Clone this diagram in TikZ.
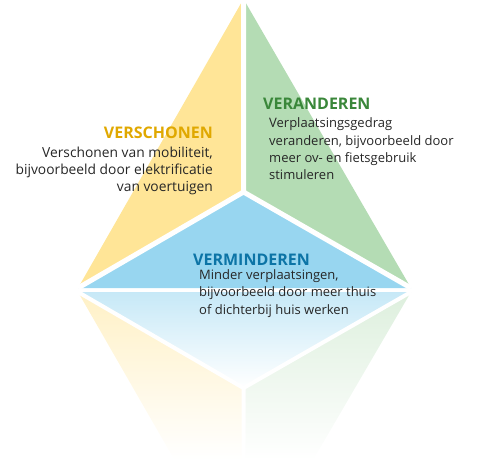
\documentclass[tikz,border=0pt]{standalone}
\usepackage{fontspec}
\setmainfont{Open Sans}
\definecolor{yel}{HTML}{FFE597}
\definecolor{grn}{HTML}{B4DCB4}
\definecolor{blu}{HTML}{98D6F0}
\definecolor{tyel}{HTML}{E0A800}
\definecolor{tgrn}{HTML}{3A873A}
\definecolor{tblu}{HTML}{0C74A6}
\definecolor{txt}{HTML}{262626}
\tikzset{
  gap/.style={white, line width=5pt},
  rgap/.style={white, line width=4pt},
  ttl/.style={inner sep=0pt, font=\fontsize{16}{19}\selectfont\bfseries},
  bodytxt/.style={inner sep=0pt, text=txt, font=\fontsize{13}{17.2}\selectfont},
}
\begin{document}
\begin{tikzpicture}[x=1pt,y=-1pt]
\useasboundingbox (0,0) rectangle (480,461);
\coordinate (A) at (243.5,-1);
\coordinate (C) at (243.5,192);
\coordinate (L) at (78,288);
\coordinate (R) at (411,288);
\coordinate (L2) at (78,292);
\coordinate (R2) at (411,292);
\coordinate (C2) at (243.5,388);
\coordinate (YB) at (174.5,460);
\coordinate (AB) at (243.5,460);
\coordinate (GB) at (313,460);
% reflection
\shade[top color=yel!55!white, bottom color=white] (L2) -- (C2) -- (AB) -- (YB) -- cycle;
\shade[top color=grn!45!white, bottom color=white] (R2) -- (C2) -- (AB) -- (GB) -- cycle;
\shade[top color=blu!55!white, middle color=white, bottom color=white] (L2) -- (C2) -- (R2) -- cycle;
\draw[rgap] (C2) -- (AB) (C2) -- (L2) (C2) -- (R2);
% pyramid
\fill[yel] (A) -- (C) -- (L) -- cycle;
\fill[grn] (A) -- (C) -- (R) -- cycle;
\fill[blu] (L) -- (C) -- (R) -- cycle;
\draw[gap] (A) -- (C) (C) -- (L) (C) -- (R);
% texts
\node[ttl, text=tyel, anchor=base east] (t1) at (213,138) {VERSCHONEN};
\node[bodytxt, font=\fontsize{13.8}{17}\selectfont, align=right, anchor=base east] (b1) at (213,191) {Verschonen van mobiliteit,\\bijvoorbeeld door elektrificatie\\van voertuigen};
\node[ttl, text=tgrn, anchor=base west] (t2) at (263,109) {VERANDEREN};
\node[bodytxt, align=left, anchor=base west] (b2) at (269,179.5) {Verplaatsingsgedrag\\veranderen, bijvoorbeeld door\\meer ov- en fietsgebruik\\stimuleren};
\node[ttl, text=tblu, anchor=base west] (t3) at (193,265) {VERMINDEREN};
\node[bodytxt, align=left, anchor=base west] (b3) at (199,314) {Minder verplaatsingen,\\bijvoorbeeld door meer thuis\\of dichterbij huis werken};
\end{tikzpicture}
\end{document}
